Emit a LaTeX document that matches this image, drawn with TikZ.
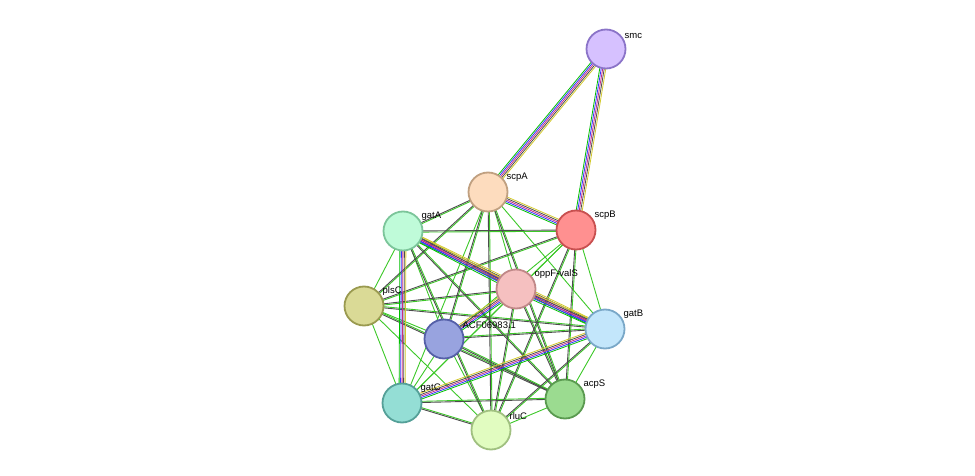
\documentclass[tikz,border=0pt]{standalone}
\usepackage{fontspec}
\setmainfont{Liberation Sans}
\usetikzlibrary{backgrounds, calc}
\tikzset{
  protein/.style={circle, minimum size=39pt, inner sep=0pt, line width=1.8pt},
  tag/.style={font=\fontsize{9.5}{10}\selectfont, anchor=south west, inner sep=1pt},
  green edge/.style={draw={rgb,255:red,60;green,200;blue,40}, line width=0.9pt},
  dark edge/.style={draw=black!70, line width=0.9pt},
}
\newcommand{\richedge}[2]{%
  \foreach \o/\c in {-3pt/green!75!black, -1.5pt/blue!80, 0pt/magenta!80!black, 1.5pt/black!70, 3pt/yellow!80!black}
    \draw[draw=\c, line width=0.8pt] ($(#1.center)!\o!90:(#2.center)$) -- ($(#2.center)!\o!-90:(#1.center)$);}
\begin{document}
\begin{tikzpicture}[x=1pt, y=-1pt]
  \useasboundingbox (0,0) rectangle (975,476);
  % proteins
  \node[protein, fill={rgb,255:red,214;green,193;blue,255}, draw={rgb,255:red,139;green,116;blue,200}] (smc) at (606,49) {};
  \node[protein, fill={rgb,255:red,253;green,220;blue,190}, draw={rgb,255:red,192;green,160;blue,128}] (scpA) at (488,192) {};
  \node[protein, fill={rgb,255:red,255;green,144;blue,144}, draw={rgb,255:red,200;green,80;blue,80}] (scpB) at (576,230) {};
  \node[protein, fill={rgb,255:red,191;green,251;blue,217}, draw={rgb,255:red,124;green,197;blue,154}] (gatA) at (403,231) {};
  \node[protein, fill={rgb,255:red,245;green,192;blue,192}, draw={rgb,255:red,192;green,136;blue,136}] (oppF) at (516,289) {};
  \node[protein, fill={rgb,255:red,218;green,218;blue,150}, draw={rgb,255:red,154;green,154;blue,80}] (plsC) at (364,306) {};
  \node[protein, fill={rgb,255:red,152;green,163;blue,223}, draw={rgb,255:red,85;green,96;blue,168}] (acf) at (444,339) {};
  \node[protein, fill={rgb,255:red,195;green,230;blue,251}, draw={rgb,255:red,122;green,168;blue,200}] (gatB) at (605,329) {};
  \node[protein, fill={rgb,255:red,148;green,222;blue,213}, draw={rgb,255:red,85;green,160;blue,152}] (gatC) at (402,403) {};
  \node[protein, fill={rgb,255:red,155;green,219;blue,144}, draw={rgb,255:red,90;green,154;blue,80}] (acpS) at (565,399) {};
  \node[protein, fill={rgb,255:red,225;green,252;blue,192}, draw={rgb,255:red,160;green,192;blue,128}] (rluC) at (491,430) {};
  % labels
  \node[tag] at ([shift={(3,5)}]smc.north east) {smc};
  \node[tag] at ([shift={(3,5)}]scpA.north east) {scpA};
  \node[tag] at ([shift={(3,5)}]scpB.north east) {scpB};
  \node[tag] at ([shift={(3,5)}]gatA.north east) {gatA};
  \node[tag] at ([shift={(3,5)}]oppF.north east) {oppF-valS};
  \node[tag] at ([shift={(3,5)}]plsC.north east) {plsC};
  \node[tag] at ([shift={(3,5)}]acf.north east) {ACF06983.1};
  \node[tag] at ([shift={(3,5)}]gatB.north east) {gatB};
  \node[tag] at ([shift={(3,5)}]gatC.north east) {gatC};
  \node[tag] at ([shift={(3,5)}]acpS.north east) {acpS};
  \node[tag] at ([shift={(3,5)}]rluC.north east) {rluC};
  % interactions
  \begin{scope}[on background layer]
    \foreach \a/\b in {scpA/gatA, scpA/oppF, scpA/plsC, scpA/acf, scpA/gatB, scpA/gatC, scpA/acpS, scpA/rluC,
        scpB/gatA, scpB/oppF, scpB/plsC, scpB/acf, scpB/gatB, scpB/gatC, scpB/acpS, scpB/rluC,
        gatA/plsC, gatA/acf, gatA/acpS, gatA/rluC, oppF/plsC, oppF/gatC, oppF/acpS, oppF/rluC,
        plsC/acf, plsC/gatB, plsC/gatC, plsC/acpS, plsC/rluC, acf/gatB, acf/gatC, acf/acpS, acf/rluC,
        gatB/acpS, gatB/rluC, gatC/acpS, gatC/rluC, acpS/rluC}
      \draw[green edge] ($(\a.center)!1.2pt!90:(\b.center)$) -- ($(\b.center)!1.2pt!-90:(\a.center)$);
    \foreach \a/\b in {scpA/gatA, scpA/plsC, scpA/acpS, scpA/rluC, scpA/acf, scpB/gatA, scpB/plsC, scpB/rluC,
        scpB/acpS, gatA/acpS, gatA/rluC, oppF/plsC, oppF/rluC, oppF/acpS, plsC/gatB, plsC/acpS,
        acf/acpS, gatC/rluC, gatB/rluC, acf/gatB, gatC/acpS}
      \draw[dark edge] (\a.center) -- (\b.center);
    \richedge{smc}{scpA}
    \richedge{smc}{scpB}
    \richedge{scpA}{scpB}
    \richedge{gatA}{gatB}
    \richedge{gatA}{oppF}
    \richedge{gatA}{gatC}
    \richedge{gatC}{gatB}
    \richedge{oppF}{gatB}
    \richedge{acf}{oppF}
  \end{scope}
\end{tikzpicture}
\end{document}
